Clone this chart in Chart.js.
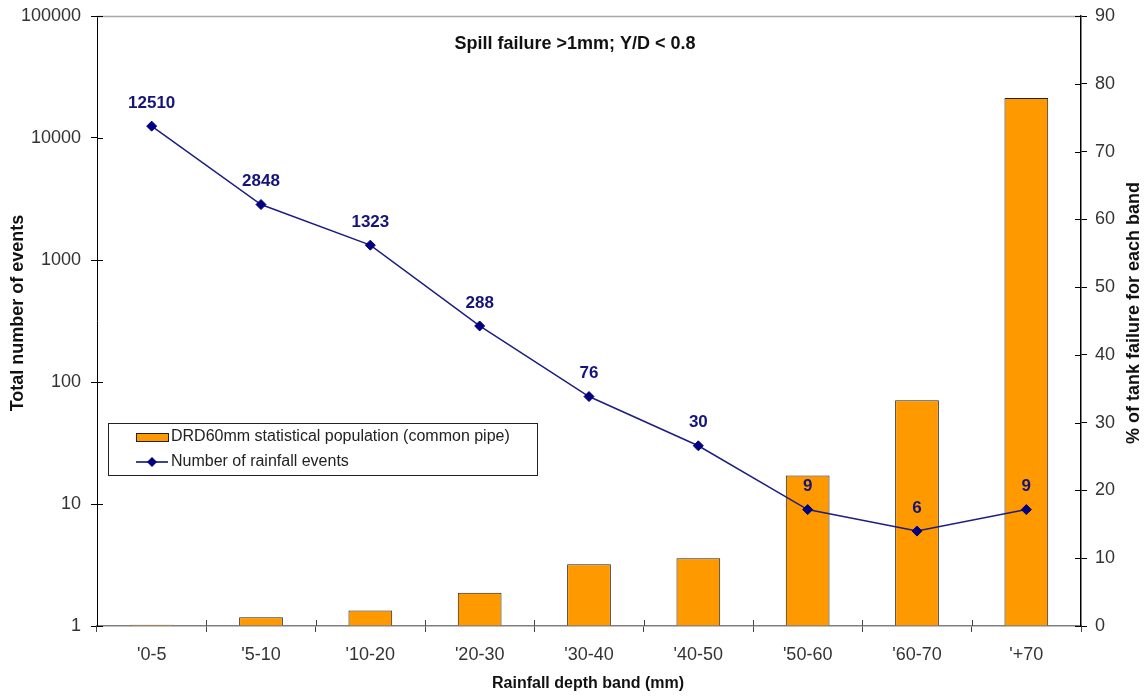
<!DOCTYPE html>
<html>
<head>
<meta charset="utf-8">
<title>Spill failure chart</title>
<script src="https://cdn.jsdelivr.net/npm/chart.js@4"></script>
<style>
  html, body { margin: 0; padding: 0; background: #ffffff; }
  #wrap { width: 1147px; height: 696px; }
</style>
</head>
<body>
<div id="wrap"><canvas id="spillChart" width="1147" height="696"></canvas></div>
<script>
/* ---------------------------------------------------------
   Data
   --------------------------------------------------------- */
var bands = ["'0-5", "'5-10", "'10-20", "'20-30", "'30-40", "'40-50", "'50-60", "'60-70", "'+70"];
var failurePct = [0.2, 1.3, 2.3, 4.9, 9.1, 10.0, 22.2, 33.3, 77.9];
var rainfallEvents = [12510, 2848, 1323, 288, 76, 30, 9, 6, 9];
var leftTicks = [1, 10, 100, 1000, 10000, 100000];

var FONT = '"Liberation Sans", Arial, sans-serif';
var NAVY = '#000080';
var ORANGE = '#ff9900';

/* ---------------------------------------------------------
   Extra drawing: titles, legend box, value labels, inner ticks
   --------------------------------------------------------- */
var decorPlugin = {
  id: 'decor',
  afterDraw: function (chart) {
    var ctx = chart.ctx;
    var area = chart.chartArea;
    var sx = chart.scales.x, yl = chart.scales.yL, yr = chart.scales.yR;

    ctx.save();

    // top frame line
    ctx.strokeStyle = '#a8a8a8';
    ctx.lineWidth = 1.5;
    ctx.beginPath();
    ctx.moveTo(area.left, area.top + 0.5);
    ctx.lineTo(area.right, area.top + 0.5);
    ctx.stroke();

    // inner halves of the tick marks
    ctx.lineWidth = 1;
    ctx.strokeStyle = '#000000';
    yl.ticks.forEach(function (t) {
      var y = Math.round(yl.getPixelForValue(t.value)) + 0.5;
      ctx.beginPath(); ctx.moveTo(area.left, y); ctx.lineTo(area.left + 6, y); ctx.stroke();
    });
    yr.ticks.forEach(function (t) {
      var y = Math.round(yr.getPixelForValue(t.value)) + 0.5;
      ctx.beginPath(); ctx.moveTo(area.right - 6, y); ctx.lineTo(area.right, y); ctx.stroke();
    });
    ctx.strokeStyle = '#444444';
    for (var i = 1; i < bands.length; i++) {
      var bx = Math.round((sx.getPixelForValue(i - 1) + sx.getPixelForValue(i)) / 2) + 0.5;
      ctx.beginPath(); ctx.moveTo(bx, area.bottom - 6); ctx.lineTo(bx, area.bottom); ctx.stroke();
    }

    // chart title inside plot
    ctx.fillStyle = '#111111';
    ctx.font = 'bold 18px ' + FONT;
    ctx.textAlign = 'center';
    ctx.textBaseline = 'middle';
    ctx.fillText('Spill failure >1mm; Y/D < 0.8', 575, 44);

    // value labels above the line points
    var meta = chart.getDatasetMeta(0);
    ctx.fillStyle = '#14147a';
    ctx.font = 'bold 17px ' + FONT;
    meta.data.forEach(function (pt, idx) {
      ctx.fillText(String(rainfallEvents[idx]), pt.x, pt.y - 23);
    });

    // axis titles
    ctx.fillStyle = '#111111';
    ctx.font = 'bold 18px ' + FONT;
    ctx.save();
    ctx.translate(18, 313);
    ctx.rotate(-Math.PI / 2);
    ctx.fillText('Total number of events', 0, 0);
    ctx.restore();

    ctx.save();
    ctx.translate(1134, 313);
    ctx.rotate(-Math.PI / 2);
    ctx.fillText('% of tank failure for each band', 0, 0);
    ctx.restore();

    ctx.font = 'bold 16px ' + FONT;
    ctx.fillText('Rainfall depth band (mm)', 588, 684);

    // legend box
    ctx.fillStyle = '#ffffff';
    ctx.fillRect(108, 423, 429, 52);
    ctx.strokeStyle = '#222222';
    ctx.lineWidth = 1;
    ctx.strokeRect(108.5, 423.5, 429, 52);

    ctx.fillStyle = ORANGE;
    ctx.fillRect(136, 433, 32, 8);
    ctx.strokeStyle = '#222222';
    ctx.strokeRect(136.5, 433.5, 32, 8);

    ctx.strokeStyle = NAVY;
    ctx.lineWidth = 1.5;
    ctx.beginPath(); ctx.moveTo(136, 462); ctx.lineTo(168, 462); ctx.stroke();
    ctx.fillStyle = NAVY;
    ctx.beginPath();
    ctx.moveTo(152, 457); ctx.lineTo(157, 462); ctx.lineTo(152, 467); ctx.lineTo(147, 462);
    ctx.closePath(); ctx.fill();

    ctx.fillStyle = '#222222';
    ctx.font = '16px ' + FONT;
    ctx.textAlign = 'left';
    ctx.fillText('DRD60mm statistical population (common pipe)', 171, 437);
    ctx.fillText('Number of rainfall events', 171, 462);

    ctx.restore();
  }
};

// fixed scale boxes so the plot area lands where the reference has it
function fixVertical(width) {
  return function (scale) {
    scale.width = width;
    scale.paddingTop = 0;
    scale.paddingBottom = 0;
  };
}

/* ---------------------------------------------------------
   Chart
   --------------------------------------------------------- */
new Chart(document.getElementById('spillChart'), {
  type: 'bar',
  data: {
    labels: bands,
    datasets: [{
      type: 'line',
      label: 'Number of rainfall events',
      data: rainfallEvents,
      yAxisID: 'yL',
      borderColor: '#1e1e82',
      borderWidth: 1.5,
      pointStyle: 'rectRot',
      pointRadius: 5,
      pointBackgroundColor: NAVY,
      pointBorderColor: NAVY,
      pointBorderWidth: 1,
      tension: 0,
      fill: false,
      order: 0
    }, {
      label: 'DRD60mm statistical population (common pipe)',
      data: failurePct,
      yAxisID: 'yR',
      backgroundColor: ORANGE,
      borderColor: '#222222',
      borderWidth: 1,
      barPercentage: 0.4,
      categoryPercentage: 1,
      order: 1
    }]
  },
  options: {
    responsive: false,
    animation: false,
    layout: { padding: { top: 16, left: 0, right: 0, bottom: 0 } },
    plugins: {
      legend: { display: false },
      title: { display: false },
      tooltip: { enabled: false }
    },
    scales: {
      x: {
        offset: true,
        grid: { display: true, offset: true, drawOnChartArea: false, drawTicks: true, tickLength: 6, color: '#444444' },
        border: { display: true, color: '#808080', width: 1.5 },
        ticks: { color: '#333333', font: { family: FONT, size: 18 }, padding: 12, maxRotation: 0 },
        afterFit: function (scale) {
          scale.height = 70;
          scale.paddingLeft = 0;
          scale.paddingRight = 0;
        }
      },
      yL: {
        type: 'logarithmic',
        position: 'left',
        min: 1,
        max: 100000,
        afterBuildTicks: function (scale) {
          scale.ticks = leftTicks.map(function (v) { return { value: v }; });
        },
        ticks: {
          color: '#333333',
          font: { family: FONT, size: 18 },
          padding: 10,
          callback: function (val) { return String(val); }
        },
        grid: { drawOnChartArea: false, tickLength: 6, color: '#000000' },
        border: { display: true, color: '#000000', width: 1 },
        afterFit: fixVertical(97)
      },
      yR: {
        type: 'linear',
        position: 'right',
        min: 0,
        max: 90,
        ticks: {
          stepSize: 10,
          color: '#333333',
          font: { family: FONT, size: 18 },
          padding: 8
        },
        grid: { drawOnChartArea: false, tickLength: 6, color: '#000000' },
        border: { display: true, color: '#000000', width: 1.5 },
        afterFit: fixVertical(66)
      }
    }
  },
  plugins: [decorPlugin]
});
</script>
</body>
</html>
